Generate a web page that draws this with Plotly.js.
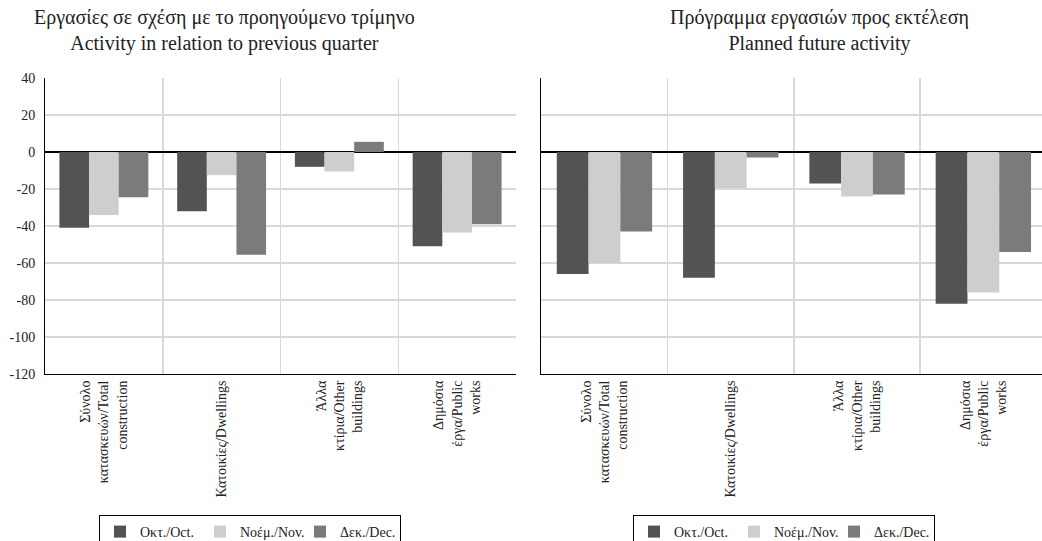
<!DOCTYPE html>
<html><head><meta charset="utf-8">
<script src="https://cdn.plot.ly/plotly-3.0.1.min.js"></script>
<style>html,body{margin:0;padding:0;overflow:hidden;background:#fff}#chart{width:1048px;height:541px}</style>
</head><body><div id="chart"></div><script>
// ---- data ----
const categories = ["Σύνολο<br>κατασκευών/Total<br>construction", "Κατοικίες/Dwellings", "Άλλα<br>κτίρια/Other<br>buildings", "Δημόσια<br>έργα/Public<br>works"];
const seriesNames = ["Οκτ./Oct.", "Νοέμ./Nov.", "Δεκ./Dec."];
const activityOct = [-41, -32, -8, -51];
const activityNov = [-34, -12.5, -10.5, -43.5];
const activityDec = [-24.5, -55.5, 5.5, -39];
const plannedOct = [-66, -68, -17, -82];
const plannedNov = [-60, -19.5, -24, -76];
const plannedDec = [-43, -3, -23, -54];
const yTickVals = [40, 20, 0, -20, -40, -60, -80, -100, -120];
const yTickText = ["40", "20", "0", "-20", "-40", "-60", "-80", "-100", "-120"];
const leftTitle = "Εργασίες σε σχέση με το προηγούμενο τρίμηνο<br>Activity in relation to previous quarter";
const rightTitle = "Πρόγραμμα εργασιών προς εκτέλεση<br>Planned future activity";

// ---- styling ----
const W = 1048, H = 541;
const colors = ["#535353", "#cecece", "#7b7b7b"];
const FONT = "'Liberation Serif', 'Times New Roman', serif";
const px = v => v / W;
const py = v => (H - v) / H;

const leftSeries = [activityOct, activityNov, activityDec];
const rightSeries = [plannedOct, plannedNov, plannedDec];
const traces = [];
leftSeries.forEach((vals, i) => traces.push({
  type: "bar", x: categories, y: vals, name: seriesNames[i],
  marker: {color: colors[i], line: {width: 0}}, xaxis: "x", yaxis: "y", legend: "legend", hoverinfo: "y"
}));
rightSeries.forEach((vals, i) => traces.push({
  type: "bar", x: categories, y: vals, name: seriesNames[i],
  marker: {color: colors[i], line: {width: 0}}, xaxis: "x2", yaxis: "y2", legend: "legend2", hoverinfo: "y"
}));

const xBase = {
  type: "category", tickson: "boundaries", showgrid: true, gridcolor: "#d9d9d9", gridwidth: 1.5,
  showline: true, linecolor: "#000", linewidth: 1, ticks: "", tickangle: -90,
  tickfont: {family: FONT, size: 14, color: "#222"}, fixedrange: true
};
const yBase = {
  range: [-120, 40], tickvals: yTickVals, ticktext: yTickText, showgrid: true, gridcolor: "#d9d9d9", gridwidth: 1.5,
  zeroline: true, zerolinecolor: "#000", zerolinewidth: 1.2, showline: true, linecolor: "#000", linewidth: 1,
  ticks: "", ticklabelstandoff: 6, tickfont: {family: FONT, size: 14, color: "#222"}, fixedrange: true,
  domain: [py(374), py(78)]
};
const legendBase = {
  orientation: "h", xanchor: "left", yanchor: "top", y: py(515),
  bordercolor: "#000", borderwidth: 1, bgcolor: "#fff", entrywidth: 55, entrywidthmode: "pixels",
  font: {family: FONT, size: 14, color: "#222"}, traceorder: "normal"
};

const layout = {
  width: W, height: H, paper_bgcolor: "#fff", plot_bgcolor: "#fff",
  margin: {l: 0, r: 0, t: 0, b: 0, autoexpand: false},
  barmode: "group", bargap: 0.245, bargroupgap: 0,
  showlegend: true,
  xaxis: Object.assign({}, xBase, {domain: [px(45), px(516)], anchor: "y"}),
  yaxis: Object.assign({}, yBase, {anchor: "x"}),
  xaxis2: Object.assign({}, xBase, {domain: [px(541.3), px(1046.5)], anchor: "y2"}),
  yaxis2: Object.assign({}, yBase, {anchor: "x2", showticklabels: false}),
  legend: Object.assign({}, legendBase, {x: px(99)}),
  legend2: Object.assign({}, legendBase, {x: px(633)}),
  annotations: [
    {text: leftTitle, xref: "paper", yref: "paper", x: px(224), y: py(31), xanchor: "center", yanchor: "middle",
     showarrow: false, font: {family: FONT, size: 20, color: "#222"}},
    {text: rightTitle, xref: "paper", yref: "paper", x: px(819), y: py(31), xanchor: "center", yanchor: "middle",
     showarrow: false, font: {family: FONT, size: 20, color: "#222"}}
  ]
};

Plotly.newPlot("chart", traces, layout, {displayModeBar: false, staticPlot: true});
</script></body></html>
